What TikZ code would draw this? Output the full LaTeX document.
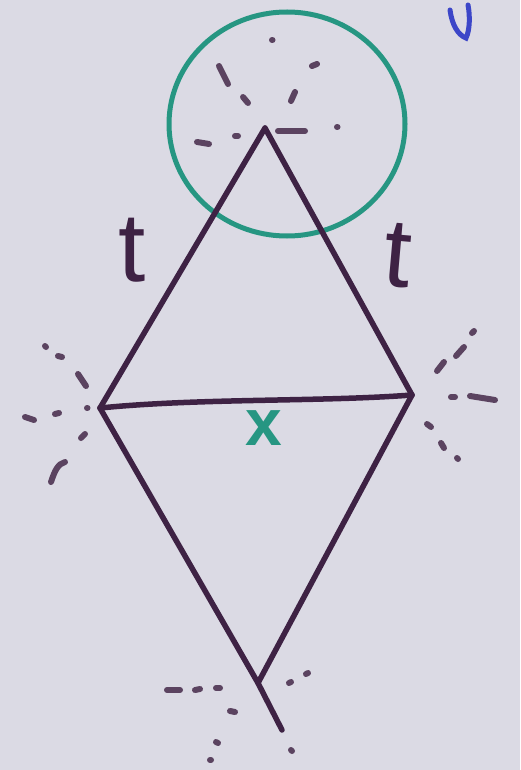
\documentclass[tikz,border=0pt]{standalone}
\usepackage{fontspec}
\setmainfont{Liberation Sans}
\usetikzlibrary{shapes.geometric}
\definecolor{paper}{RGB}{219,218,228}
\definecolor{ink}{RGB}{62,34,68}
\definecolor{tealpen}{RGB}{38,150,130}
\definecolor{pen}{RGB}{60,70,200}
\tikzset{
  edge/.style={draw=ink, line width=5.5pt, line cap=round, line join=round},
  tick/.style={draw=ink!85, line width=6pt, line cap=round},
  lbl/.style={text=ink, font=\fontsize{98}{98}\selectfont, inner sep=0pt},
}
\begin{document}
\begin{tikzpicture}[x=1pt,y=-1pt]
\useasboundingbox (0,0) rectangle (520,770);
\fill[paper] (0,0) rectangle (520,770);
% vertices
\coordinate (T) at (265,128);
\coordinate (L) at (100,408);
\coordinate (R) at (412,395);
\coordinate (B) at (258,683);
\coordinate (Bx) at (282,730);
% circle
\node[draw=tealpen, line width=5pt, ellipse, minimum width=236pt, minimum height=224pt, inner sep=0pt] (C) at (287,124) {};
% edges
\draw[edge] (T) -- (L);
\draw[edge] (T) -- (R);
\draw[edge] (L) .. controls (200,398) and (320,402) .. (R);
\draw[edge] (L) -- (B) -- (Bx);
\draw[edge] (R) -- (B);
% top ticks
\draw[tick] (219,66) -- (228,84);
\draw[tick] (243,97) -- (248,103);
\draw[tick] (272,40) -- (272.5,40);
\draw[tick] (312,66) -- (317,64);
\draw[tick] (291,101) -- (295,92);
\draw[tick] (337,127) -- (337.5,127);
\draw[tick] (197,142) -- (209,144);
\draw[tick] (235,136) -- (238,136);
\draw[tick] (278,131) -- (305,131);
% left ticks
\draw[tick] (45,346) -- (46,347);
\draw[tick] (58,356) -- (62,357);
\draw[tick] (78,374) -- (86,386);
\draw[tick] (87,408) -- (87.5,408);
\draw[tick] (25,417) -- (34,420);
\draw[tick] (55,414) -- (59,413);
\draw[tick] (81,438) -- (85,434);
\draw[tick] (51,482) .. controls (55,470) and (58,464) .. (65,462);
% right ticks
\draw[tick] (472,333) -- (474,331);
\draw[tick] (456,356) -- (464,347);
\draw[tick] (437,371) -- (444,362);
\draw[tick] (451,397) -- (455,397);
\draw[tick] (470,396) -- (495,400);
\draw[tick] (427,424) -- (431,427);
\draw[tick] (441,443) -- (444,448);
\draw[tick] (457,458) -- (458,459);
% bottom ticks
\draw[tick] (167,690) -- (180,690);
\draw[tick] (195,690) -- (200,689);
\draw[tick] (216,688) -- (220,688);
\draw[tick] (230,711) -- (235,712);
\draw[tick] (216,742) -- (218,743);
\draw[tick] (210,760) -- (211,760);
\draw[tick] (289,683) -- (291,682);
\draw[tick] (306,674) -- (308,673);
\draw[tick] (291,750) -- (292,751);
% labels
\node[lbl] (t1) at (132,250) {t};
\node[lbl, rotate=-5] (t2) at (398,256) {t};
\node[text=tealpen, font=\bfseries\fontsize{66}{66}\selectfont, inner sep=0pt] (xm) at (264,428) {x};
% blue stroke
\draw[pen, line width=5pt, line cap=round] (450,10) .. controls (452,25) and (458,35) .. (466,38) .. controls (470,30) and (470,15) .. (468,5);
\end{tikzpicture}
\end{document}
